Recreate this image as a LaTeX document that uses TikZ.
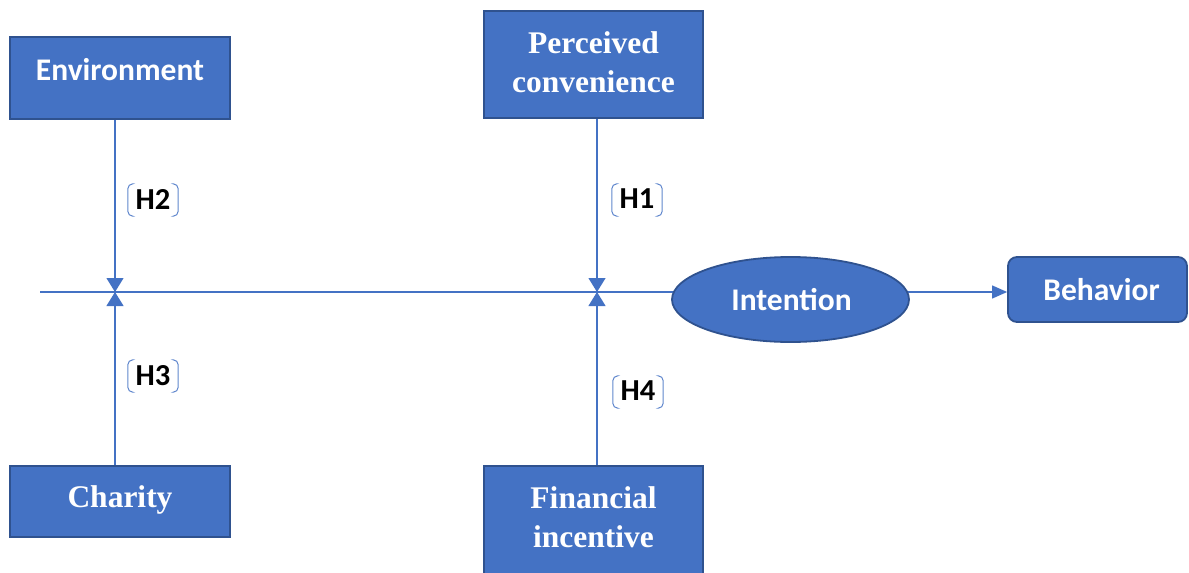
\documentclass[tikz,border=0pt]{standalone}
\usepackage{fontspec}
\setmainfont{Liberation Serif}
\newfontfamily\calib{Carlito}
\usetikzlibrary{arrows.meta,shapes.geometric}
\definecolor{fillblue}{HTML}{4472C4}
\definecolor{edgeblue}{HTML}{2F528F}
\definecolor{lineblue}{HTML}{4472C4}
\begin{document}
\begin{tikzpicture}[x=1pt,y=-1pt,
  boxnode/.style={draw=edgeblue, fill=fillblue, line width=1.8pt, inner sep=0pt, text=white},
  serifbox/.style={boxnode, font=\fontsize{31.5}{39}\selectfont\bfseries, align=center},
  sansbox/.style={boxnode, font=\fontsize{31.5}{38}\selectfont\calib\bfseries},
  conn/.style={draw=lineblue, line width=1.2pt},
  tipdown/.style={-{Triangle[width=17pt,length=14pt]}},
  tipright/.style={-{Triangle[width=13pt,length=15pt]}},
  hyp/.style={minimum width=50pt, minimum height=32pt, inner sep=0pt, font=\fontsize{30.5}{34}\selectfont\calib\bfseries},
  brk/.style={draw=lineblue!85, line width=1pt, rounded corners=5pt}
]
\useasboundingbox (0,0) rectangle (1189,573);

% junctions and free ends
\coordinate (start) at (40,292);
\coordinate (j1) at (115,292);
\coordinate (j2) at (597,292);
\coordinate (ix) at (790,292);

% boxes
\node[boxnode, minimum width=220pt, minimum height=82pt,
  label={[sansbox,draw=none,fill=none,yshift=8pt]center:Environment}] (env) at (120,78) {};
\node[boxnode, minimum width=219pt, minimum height=107pt,
  label={[serifbox,draw=none,fill=none,yshift=2.5pt]center:Perceived\\convenience}] (perc) at (593.5,64.5) {};
\node[boxnode, minimum width=220pt, minimum height=71pt,
  label={[serifbox,draw=none,fill=none,yshift=2pt]center:Charity}] (char) at (120,501.5) {};
\node[boxnode, minimum width=219pt, minimum height=112pt,
  label={[serifbox,draw=none,fill=none,yshift=5pt]center:Financial\\incentive}] (fin) at (593.5,522) {};
\node[sansbox, rounded corners=9pt, minimum width=179pt, minimum height=65pt] (beh) at (1097.5,289.5) {\hspace{8pt}Behavior};

% main horizontal line (drawn below the ellipse)
\draw[conn] (start) -- (ix);
\draw[conn, tipright] (ix) -- (ix -| beh.west);

\node[sansbox, ellipse, minimum width=237pt, minimum height=85pt] (int) at (790.5,299.5) {\hspace{2pt}Intention};

% vertical connectors
\draw[conn, tipdown] (env.south -| j1) -- (j1);
\draw[conn, tipdown] (char.north -| j1) -- (j1);
\draw[conn, tipdown] (perc.south -| j2) -- (j2);
\draw[conn, tipdown] (fin.north -| j2) -- (j2);

% hypothesis labels
\node[hyp] (h2) at (153,200) {\raisebox{2pt}{H2}};
\node[hyp] (h1) at (637,200) {\raisebox{2pt}{H1}};
\node[hyp] (h3) at (153,376) {\raisebox{2pt}{H3}};
\node[hyp] (h4) at (638,392) {\raisebox{2pt}{H4}};
\foreach \h in {h1,h2,h3,h4}{
  \draw[brk] ([xshift=4pt]\h.north west) -- (\h.north west) -- (\h.south west) -- ([xshift=4pt]\h.south west);
  \draw[brk] ([xshift=-4pt]\h.north east) -- (\h.north east) -- (\h.south east) -- ([xshift=-4pt]\h.south east);
}
\end{tikzpicture}
\end{document}
